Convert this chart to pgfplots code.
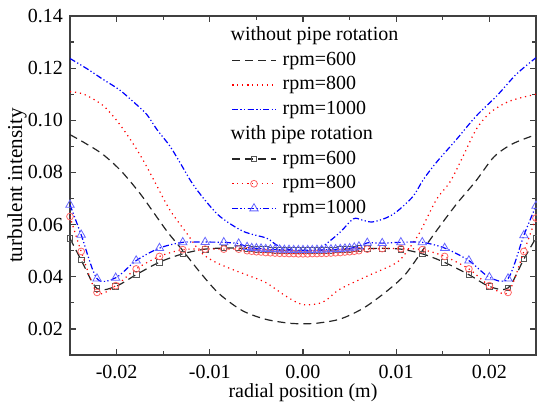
\documentclass[border=0pt]{standalone}
\usepackage{fontspec}
\setmainfont{Liberation Serif}
\usepackage{pgfplots}
\pgfplotsset{compat=1.18}
\definecolor{mkblack}{HTML}{555555}
\definecolor{mkred}{HTML}{FF6666}
\definecolor{mkblue}{HTML}{6666FF}
\tikzset{
  dsh/.style={dash pattern=on 4pt off 2.5pt},
  dts/.style={dash pattern=on 0.6pt off 1.9pt},
  ddt/.style={dash pattern=on 3pt off 1.2pt on 0.6pt off 1.2pt on 0.6pt off 1.2pt},
}
\begin{document}
\begin{tikzpicture}
\begin{axis}[
  at={(0,0)}, anchor=south west,
  scale only axis, width=233pt, height=169.5pt,
  xmin=-0.025, xmax=0.025, ymin=0.01, ymax=0.14,
  xtick={-0.02,-0.01,0,0.01,0.02},
  ytick={0.02,0.04,0.06,0.08,0.10,0.12,0.14},
  minor x tick num=1, minor y tick num=1,
  tick align=inside,
  major tick length=3pt, minor tick length=1.8pt,
  scaled ticks=false,
  /pgf/number format/assume math mode=true,
  /pgf/number format/fixed,
  /pgf/number format/fixed zerofill,
  /pgf/number format/precision=2,
  xticklabel style={yshift=-1.5pt},
  axis line style={line width=0.7pt, black!75},
  every tick/.style={line width=0.6pt, black!75},
  xlabel={radial position (m)},
  ylabel={turbulent intensity},
  xlabel style={at={(axis description cs:0.5,0)}, anchor=base, yshift=-21.5pt},
  ylabel style={at={(axis description cs:-0.1137,0.5)}, anchor=center, font=\fontsize{10.6}{12}\selectfont},
  clip mode=individual,
  legend cell align=left,
  legend style={draw=none, fill=none, at={(0.3455,0.973)}, anchor=north west,
    inner sep=0pt, row sep=2.35pt,
    /tikz/every odd column/.append style={column sep=2.5pt},
    nodes={inner sep=0.5pt, text height=7pt, text depth=2pt}},
  legend image code/.code={\draw[mark repeat=2,mark phase=2,#1] plot coordinates {(0pt,0pt) (11pt,0pt) (22pt,0pt)};},
]
\addlegendimage{empty legend}
\addlegendentry{\hspace{-26pt}without pipe rotation}

% without rotation, rpm=600
\addplot[black!85, line width=0.6pt, dsh, smooth] coordinates {
(-0.025,0.0945) (-0.0235,0.0915) (-0.0215,0.0870) (-0.0195,0.0805) (-0.0175,0.0720)
(-0.0160,0.0645) (-0.0145,0.0570) (-0.0130,0.0505) (-0.0110,0.0415) (-0.0090,0.0335)
(-0.0065,0.0270) (-0.0040,0.0237) (-0.0015,0.0222) (0.0000,0.0220) (0.0015,0.0222)
(0.0040,0.0238) (0.0065,0.0280) (0.0090,0.0345) (0.0110,0.0410) (0.0130,0.0510)
(0.0145,0.0585) (0.0165,0.0680) (0.0185,0.0765) (0.0205,0.0860) (0.0225,0.0910)
(0.0250,0.0945)};
\addlegendentry{rpm=600}

% without rotation, rpm=800
\addplot[red, line width=0.6pt, dts, smooth] coordinates {
(-0.025,0.1110) (-0.0235,0.1100) (-0.0215,0.1058) (-0.0200,0.1000) (-0.0185,0.0925)
(-0.0172,0.0850) (-0.0158,0.0757) (-0.0143,0.0657) (-0.0125,0.0568) (-0.0110,0.0495)
(-0.0095,0.0458) (-0.0075,0.0427) (-0.0055,0.0400) (-0.0039,0.0376) (-0.0018,0.0325)
(0.0000,0.0293) (0.0021,0.0302) (0.0039,0.0351) (0.0068,0.0401) (0.0100,0.0453)
(0.0112,0.0500) (0.0125,0.0568) (0.0143,0.0695) (0.0158,0.0765) (0.0172,0.0864)
(0.0186,0.0966) (0.0201,0.1030) (0.0222,0.1074) (0.0250,0.1100)};
\addlegendentry{rpm=800}

% without rotation, rpm=1000
\addplot[blue, line width=0.6pt, ddt, smooth] coordinates {
(-0.025,0.1237) (-0.0231,0.1196) (-0.0215,0.1158) (-0.0197,0.1117) (-0.0183,0.1074)
(-0.0168,0.1024) (-0.0157,0.0966) (-0.0143,0.0902) (-0.0132,0.0838) (-0.0120,0.0765)
(-0.0107,0.0702) (-0.0089,0.0631) (-0.0064,0.0574) (-0.0039,0.0548) (-0.0029,0.0523)
(-0.0015,0.0505) (0.0000,0.0500) (0.0012,0.0502) (0.0021,0.0516) (0.0039,0.0568)
(0.0054,0.0622) (0.0063,0.0618) (0.0074,0.0610) (0.0088,0.0624) (0.0100,0.0648)
(0.0118,0.0708) (0.0129,0.0772) (0.0143,0.0838) (0.0165,0.0928) (0.0186,0.1017)
(0.0208,0.1094) (0.0229,0.1177) (0.0250,0.1240)};
\addlegendentry{rpm=1000}

\addlegendimage{empty legend}
\addlegendentry{\hspace{-26pt}with pipe rotation}

% with rotation, rpm=600
\addplot[black!85, line width=0.6pt, dsh, smooth, mark=square, mark size=1.4pt,
  mark options={solid, mkblack, line width=0.4pt}] coordinates {
(-0.0250,0.0547) (-0.0238,0.0464) (-0.0221,0.0355) (-0.0201,0.0363) (-0.0179,0.0408)
(-0.0154,0.0456) (-0.0129,0.0488) (-0.0105,0.0506) (-0.0085,0.0510) (-0.0069,0.0510)
(-0.0060,0.0508) (-0.0055,0.0507) (-0.0050,0.0506) (-0.0045,0.0505) (-0.0040,0.0504)
(-0.0035,0.0503) (-0.0030,0.0502) (-0.0025,0.0502) (-0.0020,0.0501) (-0.0015,0.0501)
(-0.0010,0.0500) (-0.0005,0.0500) (0.0000,0.0500) (0.0005,0.0500) (0.0010,0.0500)
(0.0015,0.0501) (0.0020,0.0501) (0.0025,0.0502) (0.0030,0.0502) (0.0035,0.0503)
(0.0040,0.0504) (0.0045,0.0505) (0.0050,0.0506) (0.0055,0.0507) (0.0060,0.0508)
(0.0069,0.0508) (0.0085,0.0509) (0.0105,0.0506) (0.0128,0.0488) (0.0152,0.0455)
(0.0178,0.0408) (0.0200,0.0363) (0.0220,0.0357) (0.0237,0.0468) (0.0250,0.0549)};
\addlegendentry{rpm=600}

% with rotation, rpm=800
\addplot[red, line width=0.6pt, dts, smooth, mark=o, mark size=1.7pt,
  mark options={solid, mkred, line width=0.4pt}] coordinates {
(-0.0250,0.0631) (-0.0238,0.0497) (-0.0221,0.0340) (-0.0201,0.0366) (-0.0179,0.0430)
(-0.0154,0.0478) (-0.0129,0.0504) (-0.0105,0.0506) (-0.0085,0.0506) (-0.0069,0.0506)
(-0.0060,0.0500) (-0.0055,0.0498) (-0.0050,0.0496) (-0.0045,0.0495) (-0.0040,0.0493)
(-0.0035,0.0492) (-0.0030,0.0491) (-0.0025,0.0490) (-0.0020,0.0490) (-0.0015,0.0489)
(-0.0010,0.0489) (-0.0005,0.0488) (0.0000,0.0488) (0.0005,0.0488) (0.0010,0.0489)
(0.0015,0.0489) (0.0020,0.0490) (0.0025,0.0490) (0.0030,0.0491) (0.0035,0.0492)
(0.0040,0.0493) (0.0045,0.0495) (0.0050,0.0496) (0.0055,0.0498) (0.0060,0.0500)
(0.0069,0.0506) (0.0085,0.0508) (0.0105,0.0508) (0.0128,0.0504) (0.0152,0.0478)
(0.0178,0.0430) (0.0200,0.0366) (0.0220,0.0340) (0.0237,0.0497) (0.0250,0.0625)};
\addlegendentry{rpm=800}

% with rotation, rpm=1000
\addplot[blue, line width=0.6pt, ddt, smooth, mark=triangle, mark size=2.4pt,
  mark options={solid, mkblue, line width=0.4pt}] coordinates {
(-0.0250,0.0676) (-0.0238,0.0561) (-0.0221,0.0393) (-0.0201,0.0396) (-0.0179,0.0462)
(-0.0154,0.0510) (-0.0129,0.0532) (-0.0105,0.0533) (-0.0085,0.0532) (-0.0069,0.0527)
(-0.0060,0.0514) (-0.0055,0.0510) (-0.0050,0.0509) (-0.0045,0.0508) (-0.0040,0.0506)
(-0.0035,0.0505) (-0.0030,0.0505) (-0.0025,0.0504) (-0.0020,0.0503) (-0.0015,0.0503)
(-0.0010,0.0502) (-0.0005,0.0502) (0.0000,0.0502) (0.0005,0.0502) (0.0010,0.0502)
(0.0015,0.0503) (0.0020,0.0503) (0.0025,0.0504) (0.0030,0.0505) (0.0035,0.0505)
(0.0040,0.0506) (0.0045,0.0508) (0.0050,0.0509) (0.0055,0.0512) (0.0060,0.0516)
(0.0069,0.0530) (0.0085,0.0529) (0.0105,0.0532) (0.0128,0.0532) (0.0152,0.0510)
(0.0178,0.0462) (0.0200,0.0398) (0.0220,0.0393) (0.0237,0.0559) (0.0250,0.0672)};
\addlegendentry{rpm=1000}
\end{axis}
\pgfresetboundingbox
\useasboundingbox (-35pt,-26pt) rectangle (233.5pt,177.5pt);
\end{tikzpicture}
\end{document}
